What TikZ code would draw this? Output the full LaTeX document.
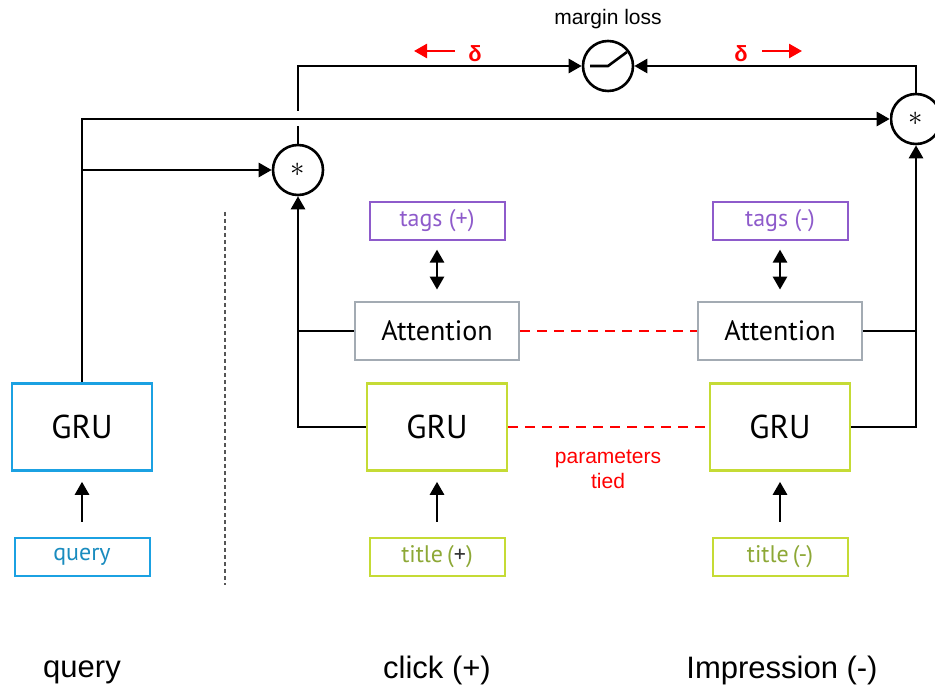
\documentclass[tikz,border=0pt]{standalone}
\usepackage{fontspec}
\setmainfont{Liberation Sans}
\newfontfamily\boxfont{PT Sans}
\usepackage{tikz}
\usetikzlibrary{arrows.meta,positioning,calc}
\definecolor{querycyan}{HTML}{1BA1E2}
\definecolor{querytext}{HTML}{1A8CBF}
\definecolor{clickgreen}{HTML}{C5DB35}
\definecolor{titletext}{HTML}{8DA836}
\definecolor{tagpurple}{HTML}{8E5BCB}
\definecolor{attgray}{HTML}{A3ABB3}
\definecolor{tiedred}{HTML}{FF0000}
\definecolor{sepgray}{HTML}{555555}
\tikzset{
  grubox/.style={rectangle,draw,line width=1.3pt,fill=white,text=black,
    font=\boxfont\fontsize{16.5}{18}\selectfont,
    minimum width=70pt,minimum height=43.5pt,inner sep=0pt},
  attbox/.style={rectangle,draw=attgray,line width=1.3pt,fill=white,text=black,
    font=\boxfont\fontsize{14}{16}\selectfont,
    minimum width=82pt,minimum height=29pt,inner sep=0pt},
  inbox/.style={rectangle,draw,line width=1pt,fill=white,
    font=\boxfont\fontsize{12}{13}\selectfont,
    minimum width=67.5pt,minimum height=19pt,inner sep=0pt},
  opcirc/.style={circle,draw,line width=1.3pt,fill=white,minimum size=25pt,
    inner sep=0pt,font=\fontsize{14}{16}\selectfont},
  conn/.style={-{Triangle[length=6.5pt,width=7pt]},line width=1.35pt,color=black},
  wire/.style={line width=1.35pt,color=black},
  tiedline/.style={line width=1.3pt,color=tiedred,dash pattern=on 5pt off 3.5pt},
  deltaarr/.style={-{Triangle[length=6.5pt,width=7pt]},line width=1.3pt,color=tiedred},
  deltalabel/.style={font=\bfseries\fontsize{11}{13}\selectfont,text=tiedred},
  smalllabel/.style={font=\fontsize{10.5}{12.5}\selectfont,align=center},
  columnlabel/.style={font=\fontsize{15.5}{18}\selectfont},
}

\begin{document}
\begin{tikzpicture}[x=0.5pt,y=-0.5pt]
  \useasboundingbox (0,0) rectangle (935,694);

  % query column
  \node[grubox,draw=querycyan] (gruq) at (82,427) {GRU};
  \node[inbox,draw=querycyan,text=querytext,below=32.5pt of gruq] (queryin) {query};

  % click (+) column
  \node[grubox,draw=clickgreen] (gruc) at (437,427) {GRU};
  \node[attbox,above=10.5pt of gruc] (attc) {Attention};
  \node[inbox,draw=tagpurple,text=tagpurple,above=30pt of attc] (tagc) {tags (+)};
  \node[inbox,draw=clickgreen,text=titletext,below=32.5pt of gruc] (titc) {title\,(\textcolor{black!80}{+})};

  % impression (-) column
  \node[grubox,draw=clickgreen] (grun) at (780,427) {GRU};
  \node[attbox,above=10.5pt of grun] (attn) {Attention};
  \node[inbox,draw=tagpurple,text=tagpurple,above=30pt of attn] (tagn) {tags (-)};
  \node[inbox,draw=clickgreen,text=titletext,below=32.5pt of grun] (titn) {title\,(-)};

  % products and loss
  \node[opcirc] (mulc) at (298,170) {$*$};
  \node[opcirc] (muln) at (916,119) {$*$};
  \node[opcirc] (loss) at (608,66) {};
  \draw[line width=1.3pt] ($(loss)+(-9pt,0)$) -- (loss.center) -- ($(loss)+(9.5pt,7pt)$);
  \node[smalllabel] (losslabel) at (608,19) {margin loss};

  % inputs
  \draw[conn,shorten <=7.5pt,shorten >=5pt] (queryin.north) -- (gruq.south);
  \draw[conn,shorten <=7.5pt,shorten >=5pt] (titc.north) -- (gruc.south);
  \draw[conn,shorten <=7.5pt,shorten >=5pt] (titn.north) -- (grun.south);
  \draw[{Triangle[length=6.5pt,width=7pt]}-{Triangle[length=6.5pt,width=7pt]},
    line width=1.35pt,shorten <=4.5pt,shorten >=5.5pt] (tagc.south) -- (attc.north);
  \draw[{Triangle[length=6.5pt,width=7pt]}-{Triangle[length=6.5pt,width=7pt]},
    line width=1.35pt,shorten <=4.5pt,shorten >=5.5pt] (tagn.south) -- (attn.north);

  % to the products
  \draw[conn] (gruc.west) -| (mulc.south);
  \draw[wire] (attc.west) -- (attc.west -| mulc);
  \draw[conn] (grun.east) -| (muln.south);
  \draw[wire] (attn.east) -- (attn.east -| muln);

  % to the loss
  \draw[conn] (mulc.north) |- (loss.west);
  \draw[conn] (muln.north) |- (loss.east);
  \draw[conn,preaction={draw=white,line width=7.5pt,-}] (gruq.north) |- (muln.west);
  \coordinate (branch) at (gruq.north |- mulc.west);
  \draw[conn] (branch) -- (mulc.west);

  % gradients
  \coordinate (dla) at (455,51);
  \coordinate (dlb) at (414,51);
  \coordinate (dra) at (762,51);
  \coordinate (drb) at (802,51);
  \draw[deltaarr] (dla) -- (dlb);
  \draw[deltaarr] (dra) -- (drb);
  \node[deltalabel] (dl) at (475,54) {δ};
  \node[deltalabel] (dr) at (741,54) {δ};

  % shared parameters
  \draw[tiedline] (attc.east) -- (attn.west);
  \draw[tiedline] (gruc.east) -- (grun.west);
  \node[smalllabel,text=tiedred] (tied) at (608,469) {parameters\\tied};

  % separator
  \coordinate (septop) at (225,212);
  \coordinate (sepbot) at (225,585);
  \draw[sepgray,line width=0.6pt,dash pattern=on 2pt off 1.5pt] (septop) -- (sepbot);

  % column labels
  \node[columnlabel] (lq) at (82,672) {query};
  \node[columnlabel] (lc) at (437,670) {click (+)};
  \node[columnlabel] (ln) at (782,670) {Impression (-)};
\end{tikzpicture}
\end{document}
